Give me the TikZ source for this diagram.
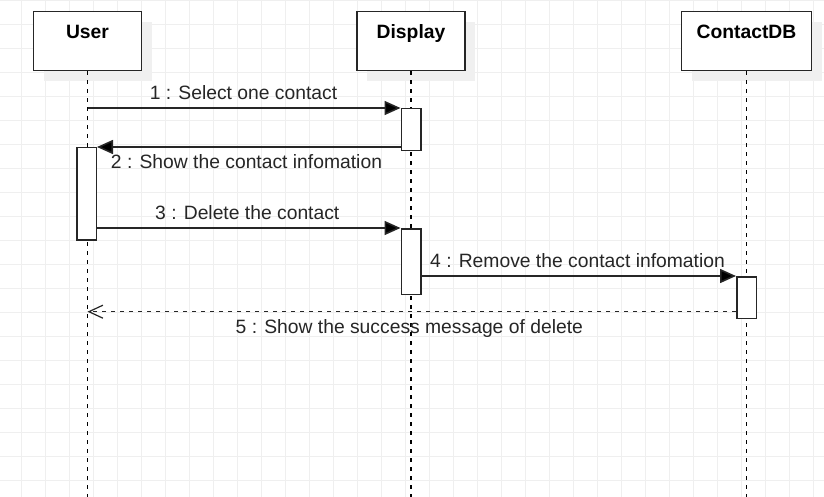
\documentclass[tikz,border=0pt]{standalone}
\usepackage{fontspec}
\setmainfont{Liberation Sans}
\usetikzlibrary{arrows.meta,shadows}
\definecolor{gridc}{HTML}{EFEFEF}
\definecolor{shadc}{HTML}{F0F0F0}
\definecolor{ink}{HTML}{262626}
\begin{document}
\begin{tikzpicture}[x=1pt,y=-1pt,
  txt/.style={font=\fontsize{19.3}{23}\selectfont, text=ink, inner sep=0pt, anchor=base},
  ttl/.style={font=\fontsize{19.3}{23}\selectfont\bfseries, text=black, inner sep=0pt, anchor=base},
  actorbox/.style={draw=ink, line width=1.5pt, fill=white, inner sep=0pt, minimum height=59pt,
     drop shadow={shadow xshift=10pt, shadow yshift=-10pt, fill=shadc, opacity=1}},
  actbox/.style={draw=ink, line width=1.5pt, fill=white, inner sep=0pt, minimum width=19.5pt, anchor=north},
  lifeline/.style={draw=black, line width=1.5pt, dash pattern=on 4pt off 5pt},
  msg/.style={draw=ink, line width=1.6pt, -{Triangle[length=16pt,width=14pt,fill=black]}},
  reply/.style={draw=ink, line width=1.5pt, dash pattern=on 4pt off 5pt, -{Straight Barb[length=14pt,width=13pt,line width=1.2pt]}}
]
\useasboundingbox[fill=white] (0,0) rectangle (824,497);
% grid
\foreach \i in {0,...,33} \draw[gridc, line width=1pt] (21.7+24*\i,0) -- (21.7+24*\i,497);
\foreach \j in {0,...,20} \draw[gridc, line width=1pt] (0,0.7+24*\j) -- (824,0.7+24*\j);

% participants
\node[actorbox, minimum width=108pt] (user) at (87.5,41.2) {};
\node[actorbox, minimum width=108pt] (disp) at (411,41.2) {};
\node[actorbox, minimum width=130pt] (cdb) at (746.5,41.2) {};
\node[ttl] (userT) at (87.5,38.3) {User};
\node[ttl] (dispT) at (411,38.3) {Display};
\node[ttl] (cdbT) at (746.5,38.3) {ContactDB};

% lifelines
\coordinate (userE) at (87.5,497);
\coordinate (dispE) at (411,497);
\coordinate (cdbE) at (746.5,497);
\draw[lifeline] (user.south) -- (userE);
\draw[lifeline] (disp.south) -- (dispE);
\draw[lifeline] (cdb.south) -- (cdbE);

% activations
\node[actbox, minimum height=42pt] (act1) at (411,108) {};
\node[actbox, minimum height=92.3pt] (uact) at (86.5,147) {};
\node[actbox, minimum height=65.5pt] (act2) at (411,228) {};
\node[actbox, minimum height=41.7pt] (cact) at (746.5,276) {};

% messages
\coordinate (m1s) at (87.5,108);
\draw[msg] (m1s) -- (act1.north west);
\draw[msg] (act1.west |- uact.north) -- (uact.north east);
\draw[msg] (uact.east |- act2.north) -- (act2.north west);
\draw[msg] (act2.east |- cact.north) -- (cact.north west);
\coordinate (m5e) at (87.5,311.7);
\draw[reply] (cact.west |- m5e) -- (m5e);

% labels
\node[txt] (l1) at (243.5,99.3) {1 : Select one contact};
\node[txt] (l2) at (246.5,168.3) {2 : Show the contact infomation};
\node[txt] (l3) at (247.3,219.3) {3 : Delete the contact};
\node[txt] (l4) at (577.5,267.3) {4 : Remove the contact infomation};
\node[txt] (l5) at (409.3,333) {5 : Show the success message of delete};
\end{tikzpicture}
\end{document}
